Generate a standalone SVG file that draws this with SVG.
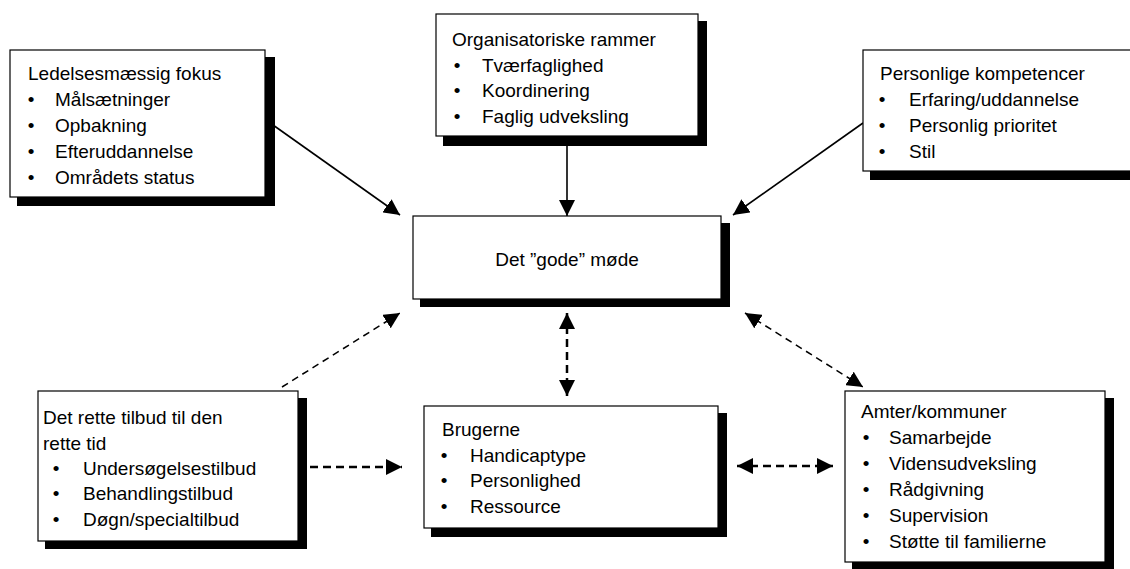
<svg xmlns="http://www.w3.org/2000/svg" width="1130" height="569" viewBox="0 0 1130 569">
  <style>
    text { font-family: "Liberation Sans", Arial, sans-serif; font-size: 19px; fill: #000; }
    .bul { text-anchor: middle; }
    .box { fill: #fff; stroke: #000; stroke-width: 1.2; }
    .shadow { fill: #000; }
    .solid { stroke: #000; stroke-width: 1.6; fill: none; }
    .dash-thin { stroke: #000; stroke-width: 1.5; fill: none; stroke-dasharray: 7 5; }
    .dash-bold { stroke: #000; stroke-width: 2.5; fill: none; stroke-dasharray: 8 5; }
  </style>
  <defs>
    <marker id="arrow" markerUnits="userSpaceOnUse" markerWidth="17" markerHeight="16" refX="16" refY="8" orient="auto-start-reverse">
      <path d="M0,0 L16,8 L0,16 z" fill="#000"/>
    </marker>
  </defs>

  <rect width="1130" height="569" fill="#fff"/>

  <!-- connectors -->
  <g id="connectors">
    <line class="solid" x1="273" y1="125" x2="400" y2="215" marker-end="url(#arrow)"/>
    <line class="solid" x1="567" y1="146" x2="567" y2="216" marker-end="url(#arrow)"/>
    <line class="solid" x1="863" y1="123" x2="733" y2="215" marker-end="url(#arrow)"/>
    <line class="dash-thin" x1="282" y1="387" x2="400" y2="313" marker-end="url(#arrow)"/>
    <line class="dash-bold" x1="567" y1="313" x2="567" y2="396" marker-start="url(#arrow)" marker-end="url(#arrow)"/>
    <line class="dash-thin" x1="745" y1="313" x2="863" y2="387" marker-start="url(#arrow)" marker-end="url(#arrow)"/>
    <line class="dash-bold" x1="310" y1="467" x2="402" y2="467" marker-end="url(#arrow)"/>
    <line class="dash-bold" x1="737" y1="466" x2="833" y2="466" marker-start="url(#arrow)" marker-end="url(#arrow)"/>
  </g>

  <!-- management focus -->
  <g id="ledelse">
    <rect class="shadow" x="17" y="57" width="258" height="149"/>
    <rect class="box" x="10" y="50" width="255" height="147"/>
    <text x="28" y="80">Ledelsesmæssig fokus</text>
    <text class="bul" x="31" y="106">•</text><text x="55" y="106">Målsætninger</text>
    <text class="bul" x="31" y="132">•</text><text x="55" y="132">Opbakning</text>
    <text class="bul" x="31" y="158">•</text><text x="55" y="158">Efteruddannelse</text>
    <text class="bul" x="31" y="184">•</text><text x="55" y="184">Områdets status</text>
  </g>

  <!-- organisational frame -->
  <g id="organisation">
    <rect class="shadow" x="443" y="21" width="264" height="125"/>
    <rect class="box" x="436" y="14" width="262" height="122"/>
    <text x="452" y="46">Organisatoriske rammer</text>
    <text class="bul" x="457" y="72">•</text><text x="482" y="72">Tværfaglighed</text>
    <text class="bul" x="457" y="97">•</text><text x="482" y="97">Koordinering</text>
    <text class="bul" x="457" y="123">•</text><text x="482" y="123">Faglig udveksling</text>
  </g>

  <!-- personal competences -->
  <g id="kompetencer">
    <rect class="shadow" x="870" y="57" width="280" height="123"/>
    <rect class="box" x="863" y="50" width="280" height="121"/>
    <text x="880" y="80">Personlige kompetencer</text>
    <text class="bul" x="882" y="106">•</text><text x="909" y="106">Erfaring/uddannelse</text>
    <text class="bul" x="882" y="132">•</text><text x="909" y="132">Personlig prioritet</text>
    <text class="bul" x="882" y="158">•</text><text x="909" y="158">Stil</text>
  </g>

  <!-- central meeting -->
  <g id="moede">
    <rect class="shadow" x="420" y="223" width="310" height="84"/>
    <rect class="box" x="413" y="216" width="308" height="83"/>
    <text x="567" y="266" text-anchor="middle">Det ”gode” møde</text>
  </g>

  <!-- right offer at right time -->
  <g id="tilbud">
    <rect class="shadow" x="45" y="398" width="262" height="151"/>
    <rect class="box" x="38" y="391" width="260" height="150"/>
    <text x="43" y="424">Det rette tilbud til den</text>
    <text x="43" y="450">rette tid</text>
    <text class="bul" x="56" y="475">•</text><text x="83" y="475">Undersøgelsestilbud</text>
    <text class="bul" x="56" y="500">•</text><text x="83" y="500">Behandlingstilbud</text>
    <text class="bul" x="56" y="526">•</text><text x="83" y="526">Døgn/specialtilbud</text>
  </g>

  <!-- users -->
  <g id="brugerne">
    <rect class="shadow" x="431" y="413" width="296" height="124"/>
    <rect class="box" x="424" y="406" width="294" height="122"/>
    <text x="442" y="436">Brugerne</text>
    <text class="bul" x="444" y="462">•</text><text x="470" y="462">Handicaptype</text>
    <text class="bul" x="444" y="487">•</text><text x="470" y="487">Personlighed</text>
    <text class="bul" x="444" y="513">•</text><text x="470" y="513">Ressource</text>
  </g>

  <!-- counties / municipalities -->
  <g id="amter">
    <rect class="shadow" x="852" y="398" width="262" height="172"/>
    <rect class="box" x="845" y="391" width="260" height="171"/>
    <text x="861" y="418">Amter/kommuner</text>
    <text class="bul" x="866" y="444">•</text><text x="889" y="444">Samarbejde</text>
    <text class="bul" x="866" y="470">•</text><text x="889" y="470">Vidensudveksling</text>
    <text class="bul" x="866" y="496">•</text><text x="889" y="496">Rådgivning</text>
    <text class="bul" x="866" y="522">•</text><text x="889" y="522">Supervision</text>
    <text class="bul" x="866" y="548">•</text><text x="889" y="548">Støtte til familierne</text>
  </g>
</svg>
